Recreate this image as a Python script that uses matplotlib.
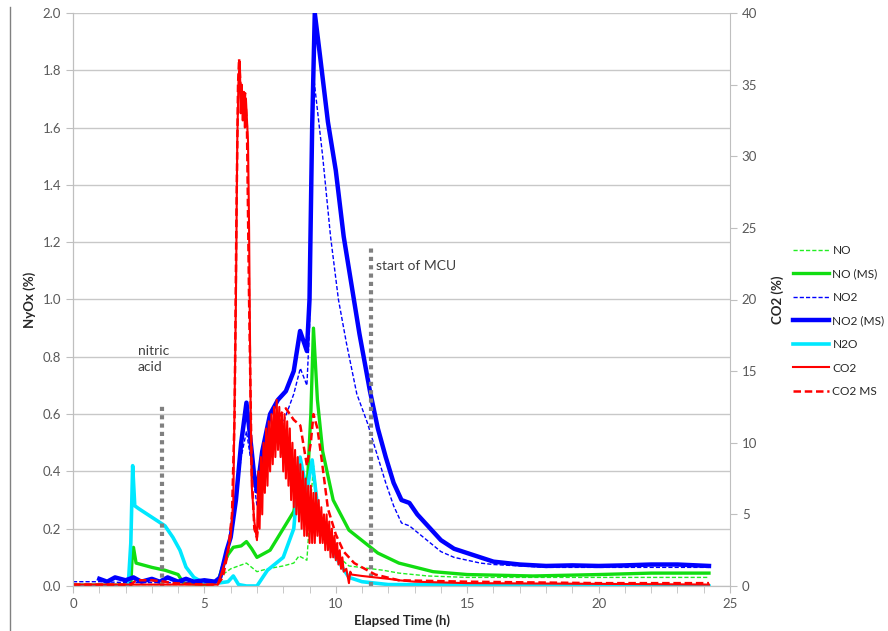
import matplotlib
matplotlib.use("Agg")
import matplotlib.pyplot as plt
from matplotlib.lines import Line2D
from matplotlib.ticker import FormatStrFormatter, MultipleLocator

plt.rcParams['font.family'] = ['Lato', 'DejaVu Sans']

# NO2 (MS) - solid blue, NyOx %
t_no2ms = [1.0, 1.3, 1.6, 2.0, 2.3, 2.6, 3.0, 3.3, 3.6, 4.0, 4.3, 4.6, 5.0, 5.4, 5.6, 5.85,
           6.0, 6.2, 6.4, 6.6, 6.8, 6.9, 7.0, 7.2, 7.5, 7.8, 8.1, 8.4, 8.64, 8.9, 9.0, 9.1,
           9.2, 9.4, 9.7, 10.0, 10.3, 10.6, 10.9, 11.3, 11.6, 11.9, 12.2, 12.5, 12.8, 13.1,
           13.5, 14.0, 14.5, 15.0, 15.5, 16.0, 17.0, 18.0, 19.0, 20.0, 21.0, 22.0, 23.0, 24.2]
no2ms = [0.025, 0.015, 0.03, 0.02, 0.03, 0.015, 0.025, 0.015, 0.03, 0.015, 0.025, 0.015,
         0.02, 0.015, 0.03, 0.125, 0.17, 0.30, 0.50, 0.64, 0.47, 0.38, 0.33, 0.47, 0.60,
         0.65, 0.68, 0.75, 0.89, 0.82, 1.0, 1.6, 2.0, 1.85, 1.62, 1.45, 1.22, 1.05, 0.88,
         0.68, 0.55, 0.45, 0.36, 0.30, 0.29, 0.25, 0.21, 0.16, 0.13, 0.115, 0.10, 0.085,
         0.075, 0.07, 0.072, 0.07, 0.072, 0.075, 0.075, 0.07]

# NO2 - dashed blue
t_no2 = [0, 1.0, 2.0, 3.0, 4.0, 5.0, 5.5, 5.7, 6.0, 6.2, 6.4, 6.6, 6.8, 7.0, 7.4, 8.0, 8.4,
         8.65, 8.9, 9.0, 9.05, 9.13, 9.5, 9.8, 10.1, 10.4, 10.8, 11.2, 11.6, 11.9, 12.2, 12.5,
         12.8, 13.2, 13.6, 14.0, 14.5, 15.0, 15.5, 16.0, 17.0, 18.0, 20.0, 22.0, 24.2]
no2 = [0.015, 0.015, 0.012, 0.012, 0.012, 0.012, 0.015, 0.08, 0.18, 0.30, 0.45, 0.54, 0.42,
       0.28, 0.45, 0.57, 0.67, 0.76, 0.70, 0.9, 1.5, 1.80, 1.5, 1.22, 1.0, 0.85, 0.67, 0.57,
       0.45, 0.36, 0.28, 0.22, 0.21, 0.18, 0.15, 0.12, 0.10, 0.09, 0.08, 0.075, 0.07, 0.065,
       0.065, 0.065, 0.065]

# NO (MS) - solid green
t_noms = [0, 2.2, 2.25, 2.3, 2.4, 3.0, 3.5, 4.0, 4.2, 5.0, 5.5, 5.7, 5.9, 6.1, 6.4, 6.6, 6.8,
          7.0, 7.2, 7.5, 8.0, 8.4, 8.6, 8.9, 9.05, 9.15, 9.3, 9.5, 9.9, 10.5, 11.6, 12.4,
          13.7, 15.0, 17.5, 20.0, 22.0, 24.2]
noms = [0.003, 0.003, 0.10, 0.135, 0.08, 0.065, 0.055, 0.04, 0.01, 0.005, 0.01, 0.07, 0.11,
        0.135, 0.14, 0.155, 0.13, 0.10, 0.11, 0.125, 0.20, 0.26, 0.36, 0.32, 0.6, 0.90, 0.65,
        0.47, 0.30, 0.195, 0.115, 0.08, 0.05, 0.04, 0.035, 0.04, 0.045, 0.045]

# NO - dashed green
t_no = [0, 5.5, 5.7, 6.0, 6.3, 6.6, 6.8, 7.0, 7.4, 8.0, 8.4, 8.6, 8.9, 9.05, 9.15, 9.3, 9.5,
        9.8, 10.5, 11.8, 12.4, 13.5, 15, 17, 20, 24.2]
no = [0.005, 0.005, 0.04, 0.06, 0.07, 0.08, 0.065, 0.05, 0.06, 0.07, 0.08, 0.105, 0.09, 0.3,
      0.42, 0.3, 0.18, 0.125, 0.07, 0.055, 0.045, 0.035, 0.03, 0.03, 0.03, 0.03]

# N2O - cyan
t_n2o = [0, 2.1, 2.2, 2.27, 2.35, 2.5, 3.0, 3.5, 3.8, 4.07, 4.3, 4.6, 4.8, 5.0, 5.5, 5.9,
         6.1, 6.3, 6.6, 7.0, 7.4, 8.0, 8.4, 8.64, 8.9, 9.1, 9.4, 10.0, 10.5, 11.0, 12.0, 24.2]
n2o = [0.0, 0.0, 0.15, 0.42, 0.28, 0.27, 0.24, 0.21, 0.17, 0.125, 0.066, 0.03, 0.02, 0.01,
       0.01, 0.015, 0.035, 0.005, 0.0, 0.0, 0.055, 0.10, 0.20, 0.45, 0.33, 0.44, 0.20, 0.10,
       0.03, 0.015, 0.005, 0.0]

# CO2 - solid red, CO2 %
t_co2 = [0, 5.5, 5.6, 5.8, 6.0, 6.1, 6.2, 6.25, 6.3, 6.35, 6.38, 6.42, 6.46, 6.5, 6.54, 6.58,
         6.62, 6.66, 6.7, 6.75, 6.8, 6.9, 7.0,
         7.05, 7.10, 7.15, 7.20, 7.25, 7.30, 7.35, 7.40, 7.45, 7.50, 7.55, 7.60, 7.65, 7.70,
         7.75, 7.80, 7.85, 7.90, 7.95, 8.00, 8.05, 8.10, 8.15, 8.20, 8.25, 8.30, 8.35, 8.40,
         8.45, 8.50, 8.55, 8.60, 8.65, 8.70, 8.75, 8.80, 8.85, 8.90, 8.95, 9.00, 9.05, 9.10,
         9.15, 9.20, 9.25, 9.30, 9.35, 9.40, 9.45, 9.50, 9.55, 9.60, 9.65, 9.70, 9.75, 9.80,
         9.85, 9.90, 9.95, 10.00, 10.05, 10.10, 10.15, 10.20, 10.25, 10.30, 10.40, 10.50,
         10.55, 10.60, 11.0, 12.0, 12.4, 13.0, 15.0, 20.0, 24.2]
co2 = [0.1, 0.1, 0.6, 1.8, 3.4, 6.0, 20.0, 31.0, 35.5, 36.6, 33.0, 35.0, 32.5, 34.5, 32.0,
       34.0, 32.5, 31.0, 25.0, 14.0, 7.0, 4.5, 3.2,
       8.0, 4.0, 9.0, 5.0, 10.0, 6.5, 11.0, 7.0, 11.5, 8.0, 12.0, 8.5, 12.5, 9.0,
       13.0, 9.5, 12.5, 9.0, 12.0, 8.0, 12.0, 7.5, 11.5, 7.0, 11.0, 6.0, 10.0, 5.5,
       9.5, 5.0, 9.0, 4.5, 8.5, 4.0, 8.0, 3.5, 7.5, 3.5, 7.0, 3.0, 7.0, 3.0,
       6.5, 3.0, 6.5, 3.5, 6.0, 3.0, 5.5, 3.0, 5.0, 2.5, 5.0, 2.5, 4.5, 2.0,
       4.0, 2.0, 3.5, 1.8, 3.0, 1.5, 2.5, 1.2, 2.0, 1.0, 1.2, 0.2,
       1.0, 0.8, 0.7, 0.5, 0.4, 0.3, 0.2, 0.15, 0.1]

# CO2 MS - dashed red
t_co2ms = [0, 2.2, 2.4, 3.0, 3.5, 3.8, 5.0, 5.5, 5.7, 5.9, 6.05, 6.15, 6.22, 6.28, 6.32,
           6.4, 6.5, 6.55, 6.62, 6.7, 6.8, 6.9, 7.0, 7.15, 7.3, 7.6, 7.9, 8.1, 8.4, 8.65,
           8.9, 9.05, 9.15, 9.3, 9.45, 9.7, 10.0, 10.3, 10.7, 11.5, 12.4, 15, 20, 24.2]
co2ms = [0.1, 0.1, 0.4, 0.4, 0.3, 0.2, 0.1, 0.1, 0.6, 2.4, 5.0, 12.0, 26.0, 35.0, 36.8,
         34.0, 33.0, 34.4, 32.0, 20.0, 8.0, 4.0, 3.4, 6.0, 9.0, 11.0, 12.0, 12.4, 11.6,
         11.2, 8.4, 10.0, 12.0, 11.0, 9.0, 5.4, 3.6, 2.4, 1.6, 0.8, 0.4, 0.3, 0.2, 0.2]

fig = plt.figure(figsize=(8.88, 6.31), dpi=100)
ax = fig.add_subplot(1, 1, 1)
fig.subplots_adjust(left=73/888, right=730/888, top=1-13/631, bottom=1-586/631)
ax2 = ax.twinx()

grey = '#595959'
axis_col = '#BFBFBF'

h1, = ax.plot(t_no, no, color='#22EE22', lw=1.0, ls=(0, (3, 1.5)), label='NO')
h2, = ax.plot(t_noms, noms, color='#11DD11', lw=2.4, label='NO (MS)')
h5, = ax.plot(t_n2o, n2o, color='#00E8FF', lw=2.6, label='N2O')
h3, = ax.plot(t_no2, no2, color='#0000FF', lw=1.0, ls=(0, (3, 1.5)), label='NO2')
h4, = ax.plot(t_no2ms, no2ms, color='#0000FF', lw=3.2, label='NO2 (MS)')
h6, = ax2.plot(t_co2, co2, color='#FF0000', lw=1.5, label='CO2')
h7, = ax2.plot(t_co2ms, co2ms, color='#FF0000', lw=1.8, ls=(0, (3, 1.5)), label='CO2 MS')

# annotations
ax.plot([3.39, 3.39], [0, 0.635], color='#808080', lw=3, ls=(0, (1, 1)))
ax.plot([11.34, 11.34], [0, 1.18], color='#808080', lw=3, ls=(0, (1, 1)))
ax.text(2.47, 0.745, 'nitric\nacid', fontsize=10, color='#404040', ha='left', va='bottom',
        linespacing=1.4)
ax.text(11.53, 1.117, 'start of MCU', fontsize=10, color='#404040', ha='left', va='center')

ax.set_xlim(0, 25)
ax.set_ylim(0, 2.0)
ax2.set_ylim(0, 40)
ax.xaxis.set_major_locator(MultipleLocator(5))
ax.xaxis.set_minor_locator(MultipleLocator(1))
ax.yaxis.set_major_locator(MultipleLocator(0.2))
ax.yaxis.set_major_formatter(FormatStrFormatter('%.1f'))
ax2.yaxis.set_major_locator(MultipleLocator(5))

ax.grid(axis='y', color='#C8C8C8', lw=1)
ax.set_axisbelow(True)
for a in (ax, ax2):
    a.spines['top'].set_visible(False)
    for s in ('left', 'right', 'bottom'):
        a.spines[s].set_color(axis_col)
    a.tick_params(which='both', direction='out', length=5, color=axis_col,
                  labelcolor=grey, labelsize=9.5)
ax.spines['right'].set_visible(False)

ax.set_xlabel('Elapsed Time (h)', fontsize=9.5, fontweight='bold', color='#262626', labelpad=3)
ax.set_ylabel('NyOx (%)', fontsize=9.5, fontweight='bold', color='#262626', labelpad=5)
ax2.set_ylabel('CO2 (%)', fontsize=9.5, fontweight='bold', color='#262626', labelpad=10)

fig.legend([h1, h2, h3, h4, h5, h6, h7], [h.get_label() for h in (h1, h2, h3, h4, h5, h6, h7)],
           loc='center left', bbox_to_anchor=(793/888, 1-321/631), frameon=False,
           fontsize=8.6, handlelength=3.0, labelspacing=1.05, handletextpad=0.3,
           borderpad=0, borderaxespad=0, labelcolor='#262626')

fig.add_artist(Line2D([10/888, 10/888], [0, 1-7/631], color='#808080', lw=1))

fig.savefig('out.png', dpi=100)
